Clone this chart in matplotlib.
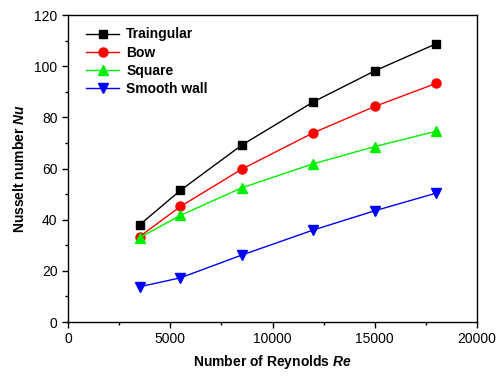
import matplotlib
matplotlib.use("Agg")
import matplotlib.pyplot as plt
from matplotlib.ticker import MultipleLocator

plt.rcParams['font.family'] = ['Liberation Sans', 'DejaVu Sans']
plt.rcParams['mathtext.fontset'] = 'custom'
plt.rcParams['mathtext.rm'] = 'Liberation Sans:bold'
plt.rcParams['mathtext.it'] = 'Liberation Sans:italic:bold'

# Reynolds numbers and Nusselt numbers per rib shape
reynolds = [3500, 5500, 8500, 12000, 15000, 18000]
nu_triangular = [38.0, 51.5, 69.2, 86.1, 98.2, 108.8]
nu_bow = [33.4, 45.2, 59.8, 74.0, 84.3, 93.3]
nu_square = [33.0, 41.7, 52.5, 61.9, 68.6, 74.6]
nu_smooth = [13.8, 17.3, 26.2, 36.0, 43.5, 50.4]

fig = plt.figure(figsize=(4.99, 3.78), dpi=100)
ax = fig.add_axes([0.1363, 0.148, 0.8196, 0.812])

ax.plot(reynolds, nu_triangular, color='black', marker='s', markersize=6, lw=1, label='Traingular')
ax.plot(reynolds, nu_bow, color='red', marker='o', markersize=6.5, lw=1, label='Bow')
ax.plot(reynolds, nu_square, color='#00ee00', marker='^', markersize=7, lw=1, label='Square')
ax.plot(reynolds, nu_smooth, color='blue', marker='v', markersize=7, lw=1, label='Smooth wall')

ax.set_xlim(0, 20000)
ax.set_ylim(0, 120)
ax.xaxis.set_major_locator(MultipleLocator(5000))
ax.xaxis.set_minor_locator(MultipleLocator(2500))
ax.yaxis.set_major_locator(MultipleLocator(20))
ax.yaxis.set_minor_locator(MultipleLocator(10))
ax.tick_params(which='major', direction='out', length=4, width=1, labelsize=10)
ax.tick_params(which='minor', direction='out', length=2.5, width=1)
for s in ax.spines.values():
    s.set_linewidth(1)

ax.set_xlabel(r'Number of Reynolds $\mathit{Re}$', fontsize=10, fontweight='bold', labelpad=5)
ax.set_ylabel(r'Nusselt number $\mathit{Nu}$', fontsize=10, fontweight='bold', labelpad=5)

leg = ax.legend(loc='upper left', bbox_to_anchor=(0.01, 1.005), frameon=False,
                prop={'weight': 'bold', 'size': 10},
                handlelength=2.4, labelspacing=0.3, borderaxespad=0.6, handletextpad=0.5)

fig.savefig('out.png', dpi=100)
